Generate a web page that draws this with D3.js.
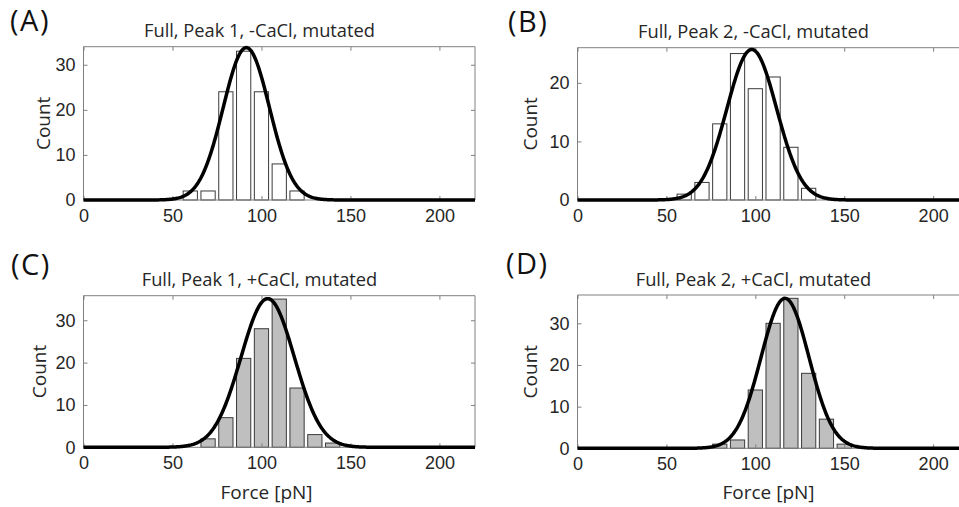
<!DOCTYPE html>
<html>
<head>
<meta charset="utf-8">
<script src="https://cdn.jsdelivr.net/npm/d3@7"></script>
<style>
  body { margin: 0; background: #fff; }
  svg { display: block; font-family: "Open Sans", sans-serif; }
</style>
</head>
<body>
<svg id="chart" width="959" height="507"></svg>
<script>
// values
const panelLabels = ["(A)", "(B)", "(C)", "(D)"]
const titles = [
    "Full, Peak 1, -CaCl, mutated",
    "Full, Peak 2, -CaCl, mutated",
    "Full, Peak 1, +CaCl, mutated",
    "Full, Peak 2, +CaCl, mutated"
]
const xTicks = [0, 50, 100, 150, 200]
const xMax = 220
const binWidth = 10

const centersA = [60, 70, 80, 90, 100, 110, 120]
const countsA = [2, 2, 24, 33, 24, 8, 2]
const centersB = [60, 70, 80, 90, 100, 110, 120, 130]
const countsB = [1, 3, 13, 25, 19, 21, 9, 2]
const centersC = [70, 80, 90, 100, 110, 120, 130, 140]
const countsC = [2, 7, 21, 28, 35, 14, 3, 1]
const centersD = [80, 90, 100, 110, 120, 130, 140, 150]
const countsD = [1, 2, 14, 30, 36, 18, 7, 1]

// gaussian fit: amplitude, mean, sigma
const fitA = [33.8, 91.5, 13]
const fitB = [25.7, 98, 14]
const fitC = [35.1, 103.5, 15]
const fitD = [36, 116.7, 13.5]

const yMaxes = [34, 26, 35.8, 36.8]
const yTicksList = [[0, 10, 20, 30], [0, 10, 20], [0, 10, 20, 30], [0, 10, 20, 30]]
const fills = ["#ffffff", "#ffffff", "#bfbfbf", "#bfbfbf"]

// layout of each axes box (pixels)
const boxes = [
    { x: 83.5, y: 46.7, w: 391.5, h: 153.3, titleX: 176, labelX: 10, labelY: 31, countX: 34, forceX: null },
    { x: 577.5, y: 47.7, w: 391.2, h: 152.3, titleX: 176, labelX: 508, labelY: 32, countX: 41, forceX: null },
    { x: 83.5, y: 295.7, w: 391.5, h: 151.6, titleX: 176, labelX: 11, labelY: 275, countX: 38, forceX: 183 },
    { x: 577.5, y: 295, w: 391.2, h: 153.3, titleX: 176, labelX: 506, labelY: 274, countX: 41, forceX: 191 }
]

const centers = [centersA, centersB, centersC, centersD]
const counts = [countsA, countsB, countsC, countsD]
const fits = [fitA, fitB, fitC, fitD]

const svg = d3.select("#chart")
const textColor = "#262626"
const axisColor = "#808080"

boxes.forEach((b, i) => drawPanel(b, i))

function drawPanel(b, i) {
    const x = d3.scaleLinear().domain([0, xMax]).range([b.x, b.x + b.w])
    const y = d3.scaleLinear().domain([0, yMaxes[i]]).range([b.y + b.h, b.y])
    const g = svg.append("g")

    // bars
    const bars = centers[i].map((c, k) => ({ c: c, n: counts[i][k] }))
    g.selectAll("rect.bar")
        .data(bars)
        .join("rect")
        .attr("class", "bar")
        .attr("x", d => x(d.c - binWidth * 0.4))
        .attr("width", d => x(d.c + binWidth * 0.4) - x(d.c - binWidth * 0.4))
        .attr("y", d => y(d.n))
        .attr("height", d => y(0) - y(d.n))
        .style("fill", fills[i])
        .style("stroke", "#3a3a3a")
        .style("stroke-width", 1)

    // axes box with inward ticks
    const bottom = d3.axisBottom(x).tickValues(xTicks).tickSize(-4).tickPadding(9).tickFormat(d3.format("d"))
    const top = d3.axisTop(x).tickValues(xTicks).tickSize(-4).tickFormat("")
    const left = d3.axisLeft(y).tickValues(yTicksList[i]).tickSize(-4).tickPadding(8).tickFormat(d3.format("d"))
    const right = d3.axisRight(y).tickValues(yTicksList[i]).tickSize(-4).tickFormat("")

    const styleAxis = sel => {
        sel.selectAll("path, line").style("stroke", axisColor).style("stroke-width", 1)
        sel.selectAll("text").style("fill", textColor).style("font-size", "18px")
    }
    g.append("g").attr("transform", `translate(0,${b.y + b.h})`).call(bottom).call(styleAxis)
        .selectAll("path").attr("d", `M${b.x},0H${b.x + b.w}`)
    g.append("g").attr("transform", `translate(0,${b.y})`).call(top).call(styleAxis)
        .selectAll("path").attr("d", `M${b.x},0H${b.x + b.w}`)
    g.append("g").attr("transform", `translate(${b.x},0)`).call(left).call(styleAxis)
        .selectAll("path").attr("d", `M0,${b.y}V${b.y + b.h}`)
    g.append("g").attr("transform", `translate(${b.x + b.w},0)`).call(right).call(styleAxis)
        .selectAll("path").attr("d", `M0,${b.y}V${b.y + b.h}`)
    g.selectAll(".domain").style("fill", "none")

    // fitted gaussian
    const [amp, mu, sd] = fits[i]
    const xs = d3.range(0, xMax + 0.25, 0.5)
    const line = d3.line()
        .x(v => x(v))
        .y(v => y(amp * Math.exp(-((v - mu) * (v - mu)) / (2 * sd * sd))))
    g.append("path")
        .datum(xs)
        .attr("d", line)
        .style("fill", "none")
        .style("stroke", "#000")
        .style("stroke-width", 3.5)

    // texts
    g.append("text")
        .attr("x", b.x + b.titleX)
        .attr("y", b.y - 9.5)
        .attr("text-anchor", "middle")
        .style("font-size", "18.3px")
        .style("fill", textColor)
        .text(titles[i])

    g.append("text")
        .attr("x", b.labelX)
        .attr("y", b.labelY)
        .style("font-size", "29px")
        .style("letter-spacing", "1.5px")
        .style("fill", "#111")
        .text(panelLabels[i])

    g.append("text")
        .attr("transform", `translate(${b.x - b.countX},${b.y + b.h / 2}) rotate(-90)`)
        .attr("text-anchor", "middle")
        .style("font-size", "19px")
        .style("fill", textColor)
        .text("Count")

    if (b.forceX !== null) {
        g.append("text")
            .attr("x", b.x + b.forceX)
            .attr("y", 499)
            .attr("text-anchor", "middle")
            .style("font-size", "19px")
            .style("fill", textColor)
            .text("Force [pN]")
    }
}
</script>
</body>
</html>
